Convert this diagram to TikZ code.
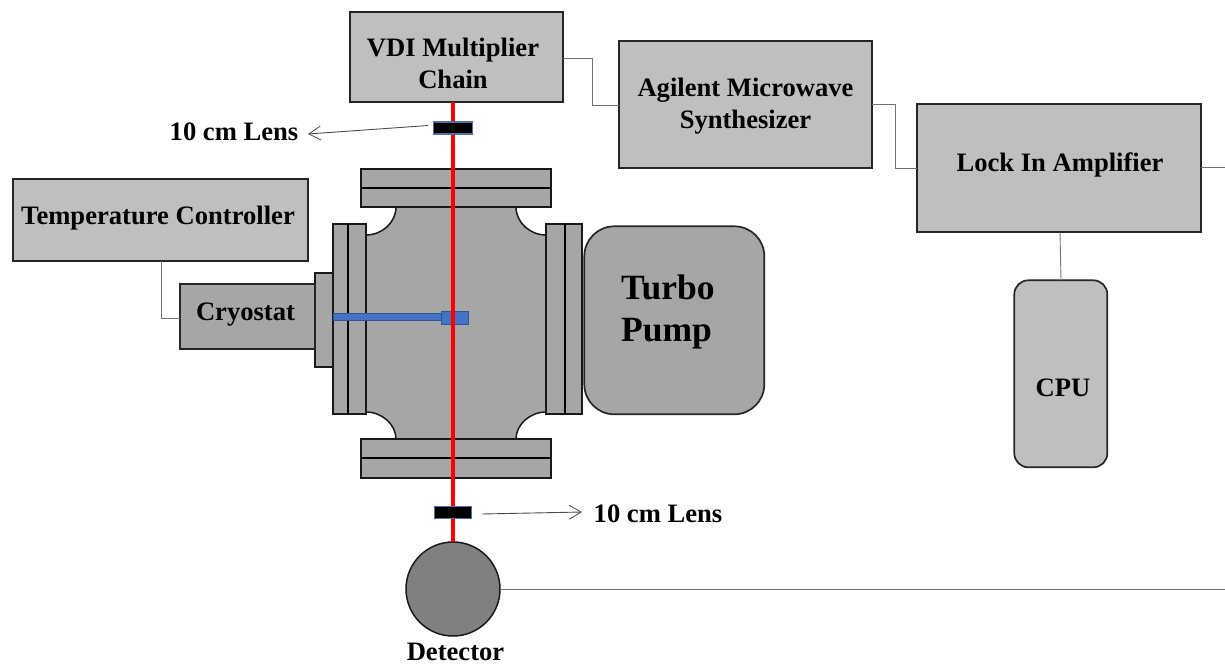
\documentclass[tikz,border=0pt]{standalone}
\usepackage{fontspec}
\setmainfont{Liberation Serif}
\usetikzlibrary{arrows.meta}
\definecolor{lightbox}{HTML}{BFBFBF}
\definecolor{midbox}{HTML}{A6A6A6}
\definecolor{darkdisc}{HTML}{808080}
\definecolor{blueprobe}{HTML}{4472C4}
\definecolor{blueedge}{HTML}{2F5597}
\tikzset{
 x=1pt,y=-1pt,
 lab/.style={font=\fontsize{26.6}{32}\selectfont\bfseries,align=center,text=black,inner sep=0pt},
 bx/.style={draw=black!85,line width=1.7pt,anchor=north west,inner sep=0pt,outer sep=0pt},
 wire/.style={draw=black!55,line width=0.9pt},
 point/.style={draw=black!70,line width=0.9pt,-{Straight Barb[length=12pt,width=14pt,line width=0.8pt]}},
 part/.style={draw=black!90,line width=1.5pt,fill=midbox},
 lensbox/.style={draw=blueedge!85,line width=1.5pt,fill=black,inner sep=0pt,outer sep=0pt,anchor=north west}
}
\newcommand{\boxat}[6]{\node[bx,fill=#2,minimum width=#5pt-#3pt,minimum height=#6pt-#4pt] (#1) at (#3,#4) {};}
\begin{document}
\begin{tikzpicture}
\useasboundingbox (0,0) rectangle (1225,664);
% chamber
\draw[part] (396,207) -- (516,207)
  .. controls (516,222.5) and (530,235) .. (546,235) -- (546,412)
  .. controls (530,412) and (516,424.5) .. (516,439) -- (396,439)
  .. controls (396,424.5) and (382,412) .. (366,412) -- (366,235)
  .. controls (382,235) and (396,222.5) .. (396,207) -- cycle;
% flanges
\draw[part] (361,169) rectangle (551,207);
\draw[draw=black,line width=2.4pt] (361,188) -- (551,188);
\draw[part] (361,439) rectangle (551,478);
\draw[draw=black,line width=2.4pt] (361,458) -- (551,458);
\draw[part] (333,224) rectangle (366,414);
\draw[draw=black,line width=1.5pt] (348,224) -- (348,414);
\draw[part] (546,224) rectangle (582,414);
\draw[draw=black,line width=1.5pt] (565,224) -- (565,414);
\draw[part] (315,273) rectangle (333,367);
% boxes
\boxat{vdi}{lightbox}{350.3}{12.3}{563.3}{102.3}
\boxat{agilent}{lightbox}{619.3}{41.3}{872.3}{168.3}
\boxat{lockin}{lightbox}{917.3}{104.3}{1201.3}{232.3}
\boxat{temp}{lightbox}{13.3}{179.3}{308.3}{261.3}
\boxat{cryo}{midbox}{180.3}{284.3}{315.3}{349.3}
\node[bx,fill=midbox,rounded corners=30pt,minimum width=180pt,minimum height=188pt] (turbo) at (584.3,226.3) {};
\node[bx,fill=lightbox,rounded corners=14pt,minimum width=93pt,minimum height=187pt] (cpu) at (1014.3,280.3) {};
\node[draw=black!90,line width=1.5pt,fill=darkdisc,circle,minimum size=94pt,inner sep=0pt,outer sep=0pt] (det) at (453,589) {};
% wires
\coordinate (lockR) at (1225,167);
\coordinate (detR) at (1225,589);
\draw[wire] (vdi.east |- 0,58) -- (592,58) -- (592,105) -- (agilent.west |- 0,105);
\draw[wire] (agilent.east |- 0,104) -- (895,104) -- (895,168) -- (lockin.west |- 0,168);
\draw[wire] (lockin.east |- 0,167) -- (lockR);
\draw[wire] (lockin.south -| 1060,0) -- (cpu.north -| 1061,0);
\draw[wire] (temp.south -| 161,0) -- (161,318) -- (cryo.west |- 0,318);
\draw[wire] (det.east) -- (detR);
% probe
\draw[draw=blueedge,line width=0.9pt,fill=blueprobe] (333,313.5) rectangle (441,320);
\draw[draw=blueedge,line width=0.9pt,fill=blueprobe] (441,311) rectangle (468,324);
% beam
\draw[draw=red,line width=3.6pt] (vdi.south -| 453,0) -- (det.north);
% lenses
\node[lensbox,minimum width=39pt,minimum height=12pt] (lensA) at (433.5,122) {};
\node[lensbox,minimum width=37pt,minimum height=12pt] (lensB) at (434.5,506.5) {};
% labels
\node[lab] at (453,63) {VDI Multiplier\\Chain};
\node[lab] at (745.5,106.5) {Agilent Microwave\\Synthesizer};
\node[lab] at (1060,165) {Lock In Amplifier};
\node[lab] at (158,218) {Temperature Controller};
\node[lab] at (245.5,315) {Cryostat};
\node[lab,font=\fontsize{35.5}{42}\selectfont\bfseries,align=left,anchor=west] at (621,312) {Turbo\\Pump};
\node[lab] at (1063,388) {CPU};
\node[lab] (lbA) at (234,131.5) {10 cm Lens};
\node[lab] (lbB) at (658,514) {10 cm Lens};
\node[lab] at (455.5,652) {Detector};
\coordinate (tipA) at (308,134);
\coordinate (tailA) at (428,125.5);
\coordinate (tipB) at (582,512);
\coordinate (tailB) at (482,514);
\draw[point] (tailA) -- (tipA);
\draw[point] (tailB) -- (tipB);
\end{tikzpicture}
\end{document}
